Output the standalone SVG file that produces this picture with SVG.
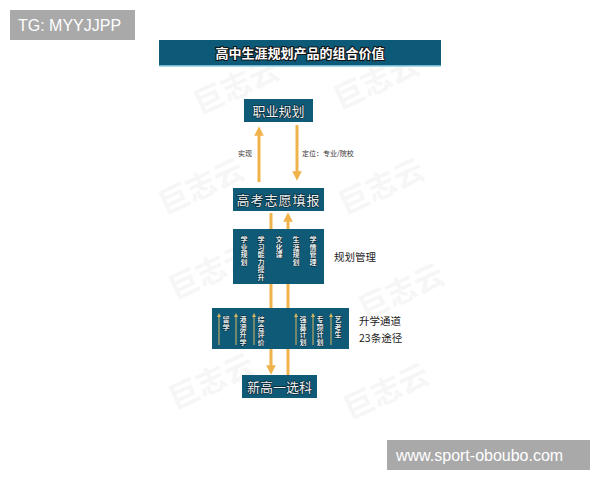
<svg xmlns="http://www.w3.org/2000/svg" width="600" height="480" viewBox="0 0 600 480">
<defs>
<style>
.wm{font-family:"Noto Sans CJK SC",sans-serif;font-size:30px;font-weight:bold;fill:#000;opacity:0.03}
.box{fill:#0f5a76}
.lbl{font-family:"Noto Sans CJK SC",sans-serif;font-size:13px;fill:#eef3f5;stroke:#06222e;stroke-width:1.2;paint-order:stroke;text-anchor:middle}
.vt{font-family:"Noto Sans CJK SC",sans-serif;font-size:7px;font-weight:bold;fill:#e6eef0;stroke:#06222e;stroke-width:0.8;paint-order:stroke;writing-mode:vertical-rl;letter-spacing:0.5px}
.side{font-family:"Noto Sans CJK SC",sans-serif;font-size:10.5px;fill:#222}
.small{font-family:"Noto Sans CJK SC",sans-serif;font-size:7px;fill:#333}
.arr{stroke:#f0b24a;stroke-width:3;fill:none}
.thin{stroke:#d9b463;stroke-width:1;fill:none}
.tag{fill:#a9a9a9}
.tagt{font-family:"Liberation Sans",Arial,sans-serif;font-size:16px;fill:#fff}
</style>
<marker id="ah" viewBox="0 0 10 10" refX="5" refY="5" markerWidth="3.2" markerHeight="3.2" orient="auto-start-reverse" markerUnits="strokeWidth"><path d="M0,0 L10,5 L0,10 z" fill="#f0b24a"/></marker>
<marker id="ahs" viewBox="0 0 10 10" refX="5" refY="5" markerWidth="4" markerHeight="4" orient="auto-start-reverse" markerUnits="strokeWidth"><path d="M0,0 L10,5 L0,10 z" fill="#d9b463"/></marker>
</defs>
<rect width="600" height="480" fill="#fff"/>
<g id="watermarks">
<text class="wm" transform="translate(200,115) rotate(-25)">巨志云</text>
<text class="wm" transform="translate(340,110) rotate(-25)">巨志云</text>
<text class="wm" transform="translate(165,215) rotate(-25)">巨志云</text>
<text class="wm" transform="translate(345,215) rotate(-25)">巨志云</text>
<text class="wm" transform="translate(175,300) rotate(-25)">巨志云</text>
<text class="wm" transform="translate(365,320) rotate(-25)">巨志云</text>
<text class="wm" transform="translate(175,410) rotate(-25)">巨志云</text>
<text class="wm" transform="translate(350,420) rotate(-25)">巨志云</text>
</g>
<g id="tag-tl"><rect class="tag" x="10" y="10" width="125" height="30"/><text class="tagt" x="18" y="31">TG: MYYJJPP</text></g>
<g id="title">
<rect x="159" y="40" width="282" height="25" fill="#0d5a78"/>
<rect x="159" y="65" width="282" height="1.5" fill="#6fb7d0"/>
<text x="300" y="58" font-family="'Noto Sans CJK SC',sans-serif" font-size="13" font-weight="bold" fill="#fff" stroke="#111" stroke-width="2" paint-order="stroke" text-anchor="middle">高中生涯规划产品的组合价值</text>
</g>
<g id="connectors">
<line class="arr" x1="259" y1="182" x2="259" y2="131" marker-end="url(#ah)"/>
<line class="arr" x1="297" y1="125" x2="297" y2="176" marker-end="url(#ah)"/>
<line class="arr" x1="271" y1="213" x2="271" y2="370" marker-end="url(#ah)"/>
<line class="arr" x1="288" y1="377" x2="288" y2="217" marker-end="url(#ah)"/>
</g>
<text class="small" x="238" y="156">实现</text>
<text class="small" x="302" y="156">定位：专业/院校</text>
<g id="node-career"><rect class="box" x="244" y="99" width="69" height="23"/><text class="lbl" x="278.5" y="115.5">职业规划</text></g>
<g id="node-gaokao"><rect class="box" x="233" y="188" width="91" height="23"/><text class="lbl" x="278.5" y="204.5" letter-spacing="1">高考志愿填报</text></g>
<g id="node-plan">
<rect class="box" x="233" y="229" width="91" height="55"/>
<text class="vt" x="244" y="236">学业规划</text>
<text class="vt" x="261" y="236">学习能力提升</text>
<text class="vt" x="279" y="236">文化课</text>
<text class="vt" x="296" y="236">生涯规划</text>
<text class="vt" x="313" y="236">学情管理</text>
</g>
<text class="side" x="334" y="261">规划管理</text>
<g id="node-channel">
<rect class="box" x="212" y="308" width="137" height="41"/>
<line class="thin" x1="219" y1="345" x2="219" y2="315" marker-end="url(#ahs)"/>
<line class="thin" x1="236" y1="345" x2="236" y2="315" marker-end="url(#ahs)"/>
<line class="thin" x1="254" y1="345" x2="254" y2="315" marker-end="url(#ahs)"/>
<line class="thin" x1="296" y1="345" x2="296" y2="315" marker-end="url(#ahs)"/>
<line class="thin" x1="313" y1="345" x2="313" y2="315" marker-end="url(#ahs)"/>
<line class="thin" x1="331" y1="345" x2="331" y2="315" marker-end="url(#ahs)"/>
<text class="vt" x="226" y="316">留学</text>
<text class="vt" x="243" y="316">港澳升学</text>
<text class="vt" x="261" y="316">综合评价</text>
<text class="vt" x="303" y="316">强基计划</text>
<text class="vt" x="320" y="316">专项计划</text>
<text class="vt" x="338" y="316">艺考生</text>
</g>
<text class="side" x="359" y="325">升学通道</text>
<text class="side" x="359" y="342">23条途径</text>
<g id="node-xuanke"><rect class="box" x="242" y="375" width="75" height="23"/><text class="lbl" x="279.5" y="391.5">新高一选科</text></g>
<g id="tag-br"><rect class="tag" x="387" y="440" width="203" height="30"/><text class="tagt" x="396" y="461">www.sport-oboubo.com</text></g>
</svg>
